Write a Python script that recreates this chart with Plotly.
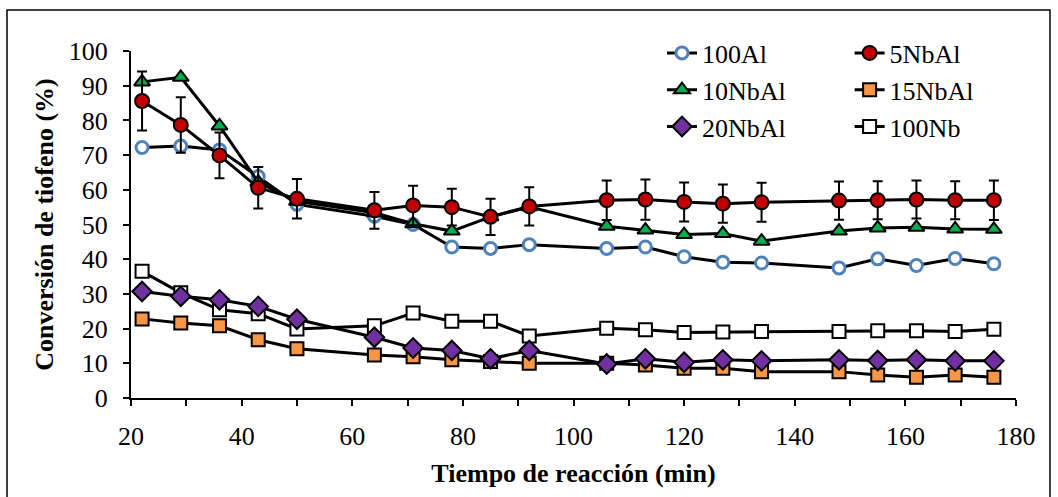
import plotly.graph_objects as go

tiempo = [22, 29, 36, 43, 50, 64, 71, 78, 85, 92, 106, 113, 120, 127, 134, 148, 155, 162, 169, 176]

al100 = [72.2, 72.6, 71.5, 63.8, 55.8, 52.4, 50.0, 43.5, 43.1, 44.2, 43.1, 43.5, 40.7, 39.1, 38.9, 37.5, 40.1, 38.2, 40.2, 38.7]
nbal5 = [85.6, 78.7, 69.9, 60.6, 57.4, 54.1, 55.5, 55.0, 52.2, 55.2, 57.0, 57.2, 56.5, 56.0, 56.4, 56.9, 57.0, 57.2, 57.0, 57.0]
nbal5_err = [8.5, 8.0, 6.6, 6.0, 5.7, 5.3, 5.7, 5.3, 5.2, 5.5, 5.7, 5.8, 5.6, 5.5, 5.6, 5.5, 5.5, 5.5, 5.5, 5.7]
nbal10 = [91.1, 92.4, 78.4, 62.2, 56.7, 53.4, 50.2, 48.1, 52.2, 55.1, 49.5, 48.4, 47.1, 47.4, 45.2, 48.1, 49.0, 49.2, 48.7, 48.6]
nbal15 = [22.8, 21.6, 20.8, 16.8, 14.2, 12.4, 11.9, 11.0, 10.5, 10.0, 10.0, 9.5, 8.6, 8.6, 7.6, 7.6, 6.6, 6.0, 6.6, 6.0]
nbal20 = [30.7, 29.3, 28.3, 26.4, 22.7, 17.5, 14.4, 13.7, 11.3, 13.7, 9.8, 11.3, 10.3, 11.0, 10.7, 11.0, 10.8, 11.0, 10.7, 10.7]
nb100 = [36.5, 30.3, 25.4, 24.3, 19.9, 20.8, 24.5, 22.1, 22.1, 17.9, 20.1, 19.7, 18.9, 19.0, 19.2, 19.2, 19.4, 19.4, 19.2, 19.8]

FONT = "Liberation Serif, Times New Roman, serif"

fig = go.Figure()

def add(name, y, symbol, fill, edge, size, lw, legend, rank, err=None):
    kw = {}
    if err is not None:
        kw["error_y"] = dict(type="data", array=err, visible=True, color="black",
                             thickness=2, width=5)
    fig.add_trace(go.Scatter(
        x=tiempo, y=y, name=name, mode="lines+markers",
        line=dict(color="black", width=3),
        marker=dict(symbol=symbol, color=fill, size=size,
                    line=dict(color=edge, width=lw)),
        legend=legend, legendrank=rank, **kw))

add("100Nb", nb100, "square", "white", "black", 13, 2, "legend2", 3)
add("15NbAl", nbal15, "square", "#F79646", "black", 13, 2, "legend2", 2)
add("20NbAl", nbal20, "diamond", "#7030A0", "black", 15, 2, "legend", 3)
add("100Al", al100, "circle", "white", "#4F81BD", 12, 3, "legend", 1)
add("10NbAl", nbal10, "triangle-up", "#00B050", "black", 14, 2, "legend", 2)
add("5NbAl", nbal5, "circle", "#C00000", "black", 14, 2, "legend2", 1, err=nbal5_err)

fig.update_layout(
    width=1058, height=497,
    margin=dict(l=131, r=42, t=51, b=99),
    paper_bgcolor="white", plot_bgcolor="white",
    font=dict(family=FONT, size=26, color="black"),
    showlegend=True,
    legend=dict(x=0.60, y=1.062, xanchor="left", yanchor="top",
                traceorder="normal", font=dict(size=26),
                bgcolor="rgba(0,0,0,0)", tracegroupgap=0),
    legend2=dict(x=0.812, y=1.062, xanchor="left", yanchor="top",
                 traceorder="normal", font=dict(size=26),
                 bgcolor="rgba(0,0,0,0)", tracegroupgap=0),
    xaxis=dict(range=[20, 180], tickvals=[20, 40, 60, 80, 100, 120, 140, 160, 180],
               showline=True, linecolor="black", linewidth=2,
               ticks="outside", ticklen=6, tickwidth=2, tickcolor="black",
               minor=dict(dtick=10, tick0=0, ticks="outside", ticklen=6,
                          tickwidth=2, tickcolor="black", showgrid=False),
               showgrid=False, zeroline=False, ticklabelstandoff=8,
               title=dict(text="<b>Tiempo de reacción (min)</b>",
                          font=dict(size=26), standoff=14)),
    yaxis=dict(range=[0, 100], dtick=10, tick0=0,
               showline=True, linecolor="black", linewidth=2,
               ticks="outside", ticklen=6, tickwidth=2, tickcolor="black",
               showgrid=False, zeroline=False, ticklabelstandoff=10,
               title=dict(text="<b>Conversión de tiofeno (%)</b>",
                          font=dict(size=26), standoff=8)),
    shapes=[dict(type="rect", xref="paper", yref="paper",
                 x0=-0.1401, x1=1.0384, y0=-0.32, y1=1.118,
                 line=dict(color="black", width=1.5), fillcolor="rgba(0,0,0,0)",
                 layer="below")],
)

fig.write_html("out.html")
